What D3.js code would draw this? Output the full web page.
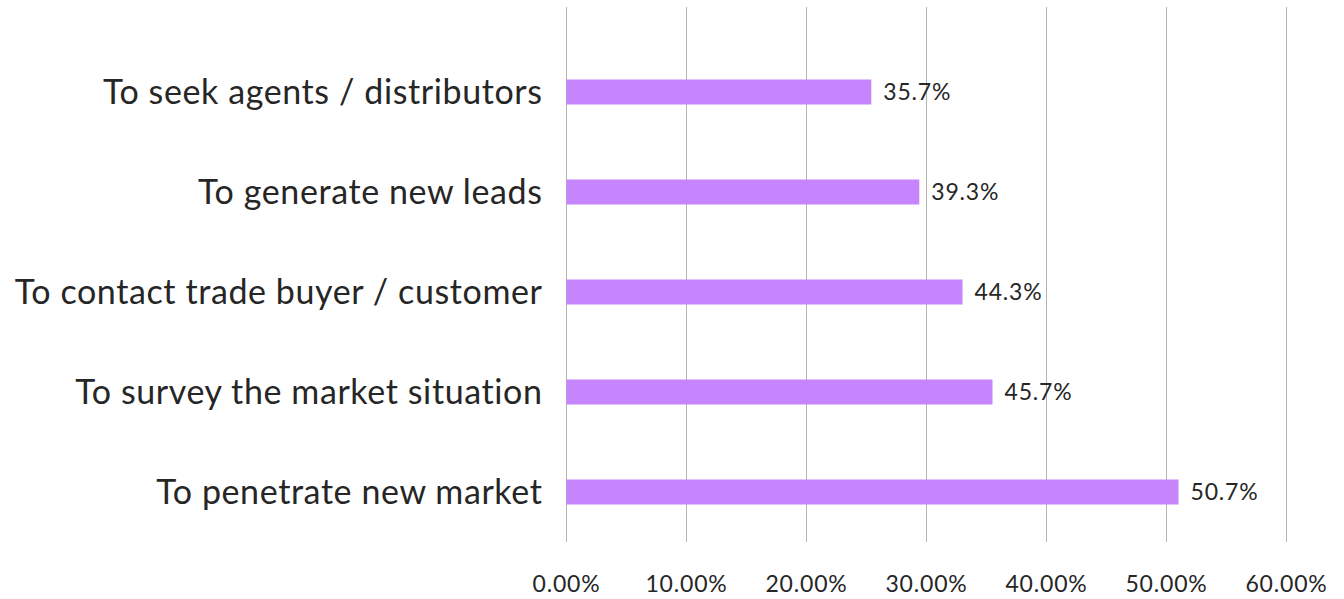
<!DOCTYPE html>
<html>
<head>
<meta charset="utf-8">
<script src="https://cdn.jsdelivr.net/npm/d3@7"></script>
<style>
  body { margin: 0; background: #fff; overflow: hidden; }
  svg { display: block; }
  text { font-family: "Lato", "Open Sans", sans-serif; fill: #262626; }
</style>
</head>
<body>
<div id="main"></div>
<script>
// categories top to bottom
var categories = ["To seek agents / distributors", "To generate new leads", "To contact trade buyer / customer", "To survey the market situation", "To penetrate new market"];
// bar lengths as drawn (percent)
var barValues = [25.4, 29.4, 33.0, 35.5, 51.0];
// value labels as printed next to bars
var valueLabels = ["35.7%", "39.3%", "44.3%", "45.7%", "50.7%"];
var ticks = [0, 10, 20, 30, 40, 50, 60];

var outerWidth = 1344, outerHeight = 599;
var marginLeft = 566.5, marginRight = 57.5, marginTop = 42, marginBottom = 57;
var innerWidth = outerWidth - marginLeft - marginRight;
var innerHeight = outerHeight - marginTop - marginBottom;

var xScale = d3.scaleLinear().domain([0, 60]).range([0, innerWidth]);
var yScale = d3.scaleBand().domain(categories).range([0, innerHeight]).paddingInner(0.75).paddingOuter(0.375);

var svg = d3.select("#main").append("svg")
    .attr("width", outerWidth)
    .attr("height", outerHeight);

var g = svg.append("g")
    .attr("transform", "translate(" + marginLeft + "," + marginTop + ")");

// gridlines
g.selectAll(".grid").data(ticks).enter()
    .append("line")
    .attr("class", "grid")
    .attr("x1", d => xScale(d)).attr("x2", d => xScale(d))
    .attr("y1", -35).attr("y2", innerHeight)
    .attr("stroke", "#b3b3b3")
    .attr("stroke-width", 1);

// tick labels
g.selectAll(".tick-label").data(ticks).enter()
    .append("text")
    .attr("class", "tick-label")
    .attr("x", d => xScale(d))
    .attr("y", innerHeight + 50)
    .attr("text-anchor", "middle")
    .style("font-size", "23px")
    .style("letter-spacing", "0.8px")
    .text(d => d.toFixed(2) + "%");

// bars
g.selectAll(".bar").data(categories).enter()
    .append("rect")
    .attr("class", "bar")
    .attr("x", 0)
    .attr("y", d => yScale(d))
    .attr("width", (d, i) => xScale(barValues[i]))
    .attr("height", yScale.bandwidth())
    .attr("fill", "#c685fd");

// value labels
g.selectAll(".value").data(categories).enter()
    .append("text")
    .attr("class", "value")
    .attr("x", (d, i) => xScale(barValues[i]) + 12)
    .attr("y", d => yScale(d) + yScale.bandwidth() / 2)
    .attr("dy", "0.36em")
    .style("font-size", "23px")
    .style("letter-spacing", "0.8px")
    .text((d, i) => valueLabels[i]);

// category labels
g.selectAll(".cat").data(categories).enter()
    .append("text")
    .attr("class", "cat")
    .attr("x", -24)
    .attr("y", d => yScale(d) + yScale.bandwidth() / 2)
    .attr("dy", "0.36em")
    .attr("text-anchor", "end")
    .style("font-size", "34px")
    .style("letter-spacing", "0.6px")
    .text(d => d);
</script>
</body>
</html>
